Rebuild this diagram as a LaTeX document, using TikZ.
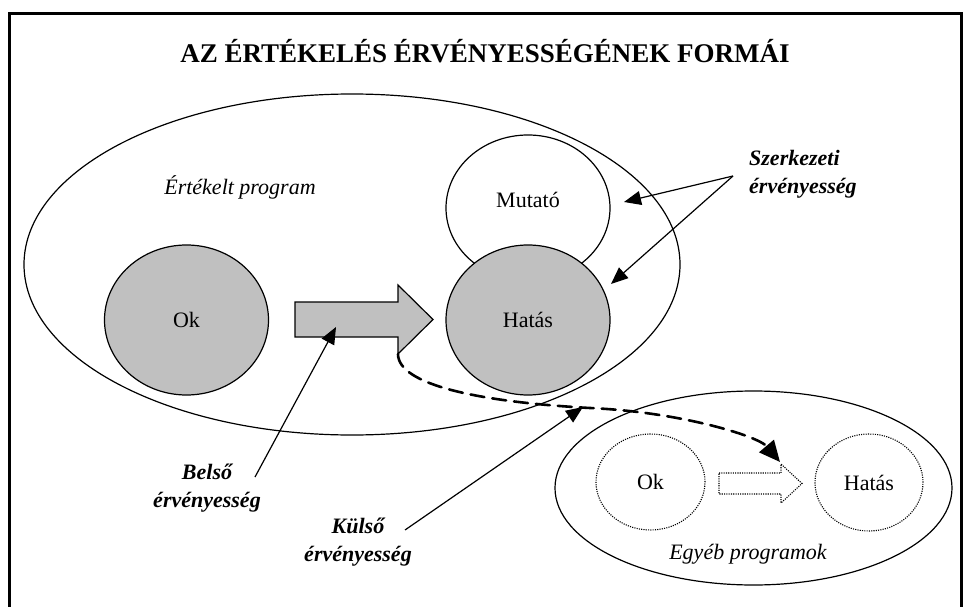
\documentclass[tikz,border=0pt]{standalone}
\usepackage{fontspec}
\setmainfont{Liberation Serif}
\usetikzlibrary{shapes.geometric,arrows.meta}
\definecolor{shade}{RGB}{192,192,192}
\begin{document}
\begin{tikzpicture}[x=1pt,y=-1pt,
  txt/.style={font=\fontsize{22}{28}\selectfont},
  oval/.style={ellipse, draw, line width=1.2pt, inner sep=0pt, outer sep=0pt, txt},
  solidoval/.style={oval, fill=shade},
  dotpat/.style={line width=1.1pt, dash pattern=on 1.1pt off 1.2pt},
  dotoval/.style={ellipse, draw, dotpat, inner sep=0pt, outer sep=0pt, txt},
  lbl/.style={font=\fontsize{22}{28}\selectfont\bfseries\itshape, align=center, inner sep=0pt},
  pointer/.style={line width=1.2pt, -{Triangle[length=17pt,width=14pt]}},
  blockarrow/.style={draw, line width=1.2pt, fill=shade, line join=miter}
]
\useasboundingbox (0,0) rectangle (967,607);

% outer frame (runs off the bottom edge)
\draw[line width=3pt] (9.5,13.5) rectangle (961.5,640);

% title
\node[font=\fontsize{27}{32}\selectfont\bfseries, inner sep=0pt] (title) at (485,51)
  {AZ ÉRTÉKELÉS ÉRVÉNYESSÉGÉNEK FORMÁI};

% evaluated programme
\node[oval, minimum width=656pt, minimum height=341pt] (prog) at (352,264.5) {};
\node[txt, font=\fontsize{22}{28}\selectfont\itshape, inner sep=0pt] (progname) at (240,187) {Értékelt program};

\node[oval, fill=white, minimum width=164pt, minimum height=146pt] (mutato) at (528,208) {};
\node[txt, inner sep=0pt] (mutatotxt) at (528,200) {Mutató};
\node[solidoval, minimum width=164pt, minimum height=150pt] (ok) at (186.5,320) {Ok};
\node[solidoval, minimum width=164pt, minimum height=150pt] (hatas) at (528,320) {Hatás};

% block arrow between cause and effect
\draw[blockarrow] (295,302) -- (398,302) -- (398,285) -- (433,319.5) -- (398,354)
  -- (398,337) -- (295,337) -- cycle;
\coordinate (headcorner) at (398,354);
\coordinate (shaft) at (336,327);

% other programmes
\node[oval, minimum width=397pt, minimum height=194pt] (egyeb) at (753.5,488) {};
\node[txt, font=\fontsize{22}{28}\selectfont\itshape, inner sep=0pt] (egyebname) at (748,554) {Egyéb programok};
\node[dotoval, minimum width=109pt, minimum height=96pt] (ok2) at (650.5,482) {Ok};
\node[dotoval, minimum width=108pt, minimum height=97pt] (hatas2) at (869,482.5) {Hatás};
\draw[dotpat]
  (719,473) -- (781,473) -- (781,464) -- (802,483.5) -- (781,503) -- (781,494) -- (719,494) -- cycle;

% labels
\node[lbl, align=left, anchor=west] (szerk) at (749,174) {Szerkezeti\\érvényesség};
\node[lbl] (belso) at (207,488) {Belső\\érvényesség};
\node[lbl] (kulso) at (358,542) {Külső\\érvényesség};

% pointers
\coordinate (sz) at (733,176);
\coordinate (muttip) at (624,202);
\coordinate (hattip) at (611,284);
\coordinate (belsofrom) at (255,477);
\coordinate (kulsofrom) at (405,530);
\coordinate (kulsotip) at (583,407);
\draw[pointer] (sz) -- (muttip);
\draw[pointer] (sz) -- (hattip);
\draw[pointer] (belsofrom) -- (shaft);
\draw[pointer] (kulsofrom) -- (kulsotip);

% generalisation path
\coordinate (gentip) at (780,462);
\draw[line width=2.6pt, dash pattern=on 14pt off 8pt, line cap=round,
      -{Triangle[length=21pt,width=19pt]}]
  (headcorner) .. controls (398,385) and (480,402) .. (590,408)
  .. controls (680,412) and (758,436) .. (gentip);
\end{tikzpicture}
\end{document}
